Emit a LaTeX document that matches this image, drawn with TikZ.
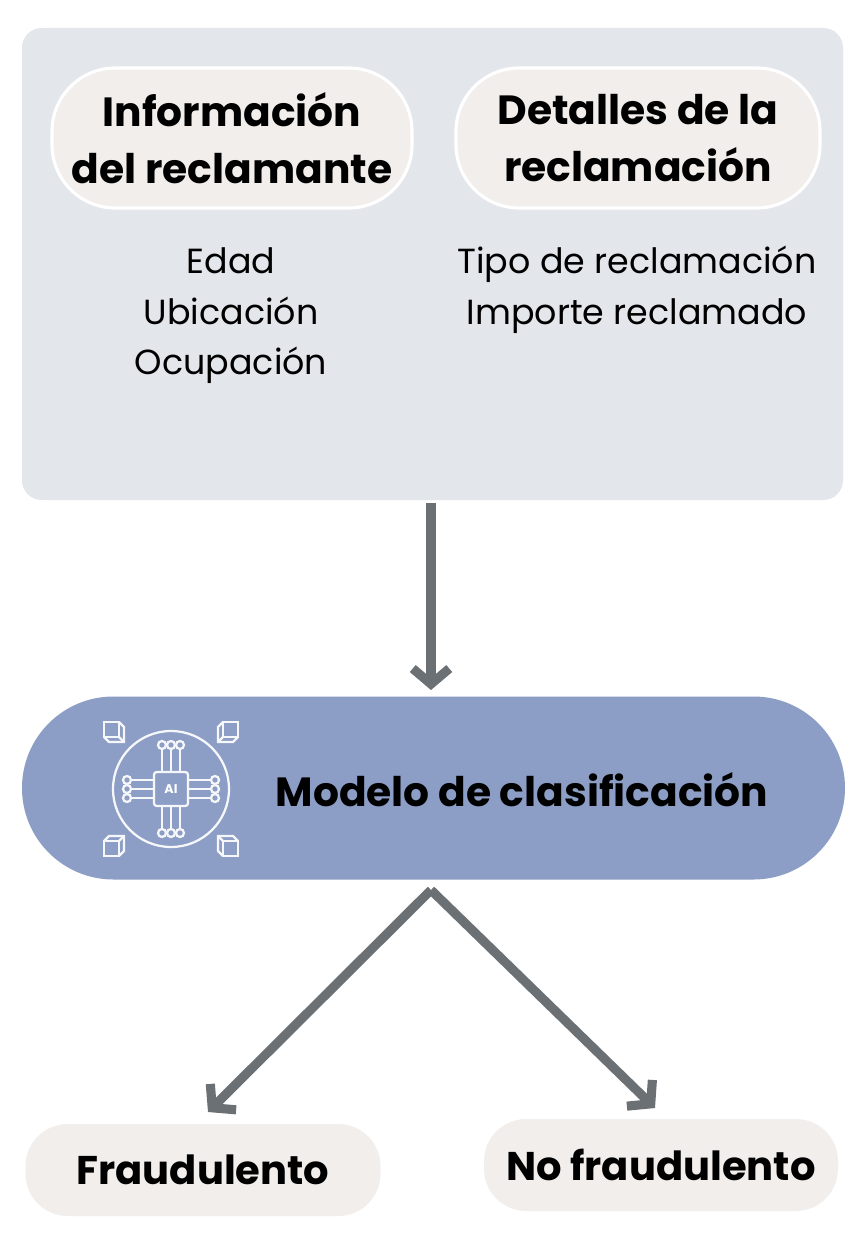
\documentclass[tikz,border=0pt]{standalone}
\usepackage{fontspec}
\setmainfont{Poppins}
\usetikzlibrary{arrows.meta}
\definecolor{panel}{HTML}{E3E7EC}
\definecolor{pillc}{HTML}{F2EEEC}
\definecolor{modelc}{HTML}{8C9EC5}
\definecolor{arr}{HTML}{6B7075}
\begin{document}
\begin{tikzpicture}[x=0.025cm,y=-0.025cm,
  pill/.style={draw=white,line width=2.2pt,fill=pillc,rounded corners=45pt,minimum width=#1,align=center,font=\fontsize{29}{41}\selectfont\bfseries,inner sep=0pt},
  item/.style={align=center,font=\fontsize{24.8}{36}\selectfont},
  conn/.style={draw=arr,line width=6.5pt,-{Straight Barb[length=11pt,width=26pt,line width=6.5pt]}},
  ic/.style={draw=white!92!modelc,line width=1.6pt}]
\useasboundingbox (0,0) rectangle (864,1247);
\fill[white] (0,0) rectangle (864,1247);
\node[fill=panel,rounded corners=14pt,minimum width=821*0.025cm,minimum height=472*0.025cm,inner sep=0pt] (panel) at (432.5,264) {};
\node[pill=360*0.025cm,minimum height=140*0.025cm] (p1) at (232,138) {Información\\del reclamante};
\node[pill=364*0.025cm,minimum height=140*0.025cm] (p2) at (638,138) {Detalles de la\\reclamación};
\node[item] (l1) at (231,316) {Edad\\Ubicación\\Ocupación};
\node[item] (l2) at (637,290) {Tipo de reclamación\\Importe reclamado};
\node[fill=modelc,rounded corners=65pt,minimum width=823*0.025cm,minimum height=183*0.025cm,inner sep=0pt] (model) at (433.5,788) {};
\node[font=\fontsize{29}{34}\selectfont\bfseries] (mt) at (522,790) {Modelo de clasificación};
\node[fill=pillc,rounded corners=30pt,minimum width=355*0.025cm,minimum height=92*0.025cm,inner sep=0pt,font=\fontsize{28.5}{34}\selectfont\bfseries] (f) at (203,1170) {Fraudulento};
\node[fill=pillc,rounded corners=30pt,minimum width=354*0.025cm,minimum height=92*0.025cm,inner sep=0pt,font=\fontsize{28.5}{34}\selectfont\bfseries] (nf) at (661,1165) {No fraudulento};
\coordinate (top) at (431,503);
\coordinate (ah) at (431,690);
\coordinate (split) at (431,890);
\coordinate (fl) at (208,1112);
\coordinate (fr) at (655,1108);
\draw[conn] (top) -- (ah);
\draw[conn] (split) -- (fl);
\draw[conn] (split) -- (fr);
% AI icon
\begin{scope}[shift={(171,789)}]
\draw[ic] (0,0) circle (58);
\fill[modelc] (-72,-72) rectangle (-45,-45);
\fill[modelc] (72,-72) rectangle (45,-45);
\fill[modelc] (-72,72) rectangle (-45,45);
\fill[modelc] (72,72) rectangle (45,45);
\foreach \sx/\sy in {-1/-1,1/-1,-1/1,1/1}{
  \draw[ic] (\sx*67,\sy*67) -- (\sx*52,\sy*67) -- (\sx*52,\sy*52) -- (\sx*67,\sy*52) -- cycle;
  \draw[ic] (\sx*52,\sy*67) -- (\sx*47,\sy*62) -- (\sx*47,\sy*47) -- (\sx*62,\sy*47) -- (\sx*67,\sy*52);
  \draw[ic] (\sx*47,\sy*47) -- (\sx*52,\sy*52);
}
\draw[ic,rounded corners=2pt] (-17,-17) rectangle (17,17);
\node[text=white,font=\fontsize{9}{9}\selectfont\bfseries] (ai) at (0,0) {AI};
\foreach \a in {-9,0,9}{
  \draw[ic] (\a,-17) -- (\a,-40); \draw[ic] (\a,-40) ++(0,-4) circle (4);
  \draw[ic] (\a,17) -- (\a,40); \draw[ic] (\a,40) ++(0,4) circle (4);
  \draw[ic] (-17,\a) -- (-40,\a); \draw[ic] (-40,\a) ++(-4,0) circle (4);
  \draw[ic] (17,\a) -- (40,\a); \draw[ic] (40,\a) ++(4,0) circle (4);
}
\end{scope}
\end{tikzpicture}
\end{document}
